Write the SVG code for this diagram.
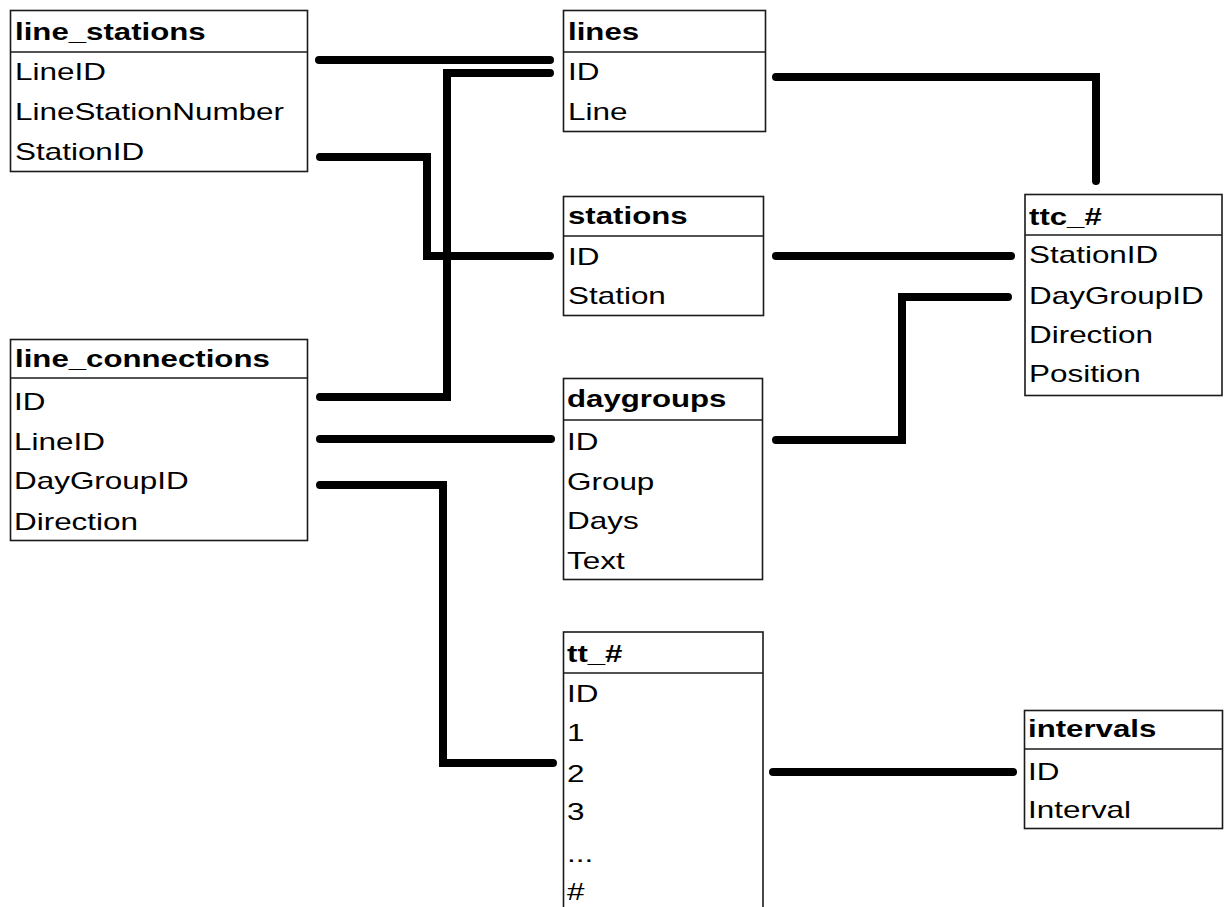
<svg xmlns="http://www.w3.org/2000/svg" width="1225" height="907" viewBox="0 0 1225 907">
<style>
.box{fill:#fff;stroke:#1a1a1a;stroke-width:1.6}
.div{stroke:#1a1a1a;stroke-width:1.6}
.t{font-family:"Liberation Sans",Arial,sans-serif;font-size:24px;fill:#000}
.h{font-family:"Liberation Sans",Arial,sans-serif;font-size:24px;font-weight:bold;fill:#000}
.c{fill:none;stroke:#000;stroke-width:8;stroke-linecap:round;stroke-linejoin:miter}
</style>
<rect width="1225" height="907" fill="#fff"/>
<g id="connectors">
<path class="c" d="M319,60 H550"/>
<path class="c" d="M320,397 H447 V73 H550"/>
<path class="c" d="M320,157 H427 V256 H550"/>
<path class="c" d="M776,256 H1011"/>
<path class="c" d="M776,77 H1096 V181"/>
<path class="c" d="M776,440 H902 V297 H1008"/>
<path class="c" d="M320,439 H551"/>
<path class="c" d="M320,485 H443 V763 H553"/>
<path class="c" d="M773,772 H1013"/>
</g>
<g id="line_stations">
<rect class="box" x="10.5" y="10.5" width="297" height="161"/>
<line class="div" x1="10.5" y1="52" x2="307.5" y2="52"/>
<text class="h" transform="translate(15,40) scale(1.3,1)">line_stations</text>
<text class="t" transform="translate(15,80) scale(1.31,1)">LineID</text>
<text class="t" transform="translate(15,120) scale(1.31,1)">LineStationNumber</text>
<text class="t" transform="translate(15,160) scale(1.31,1)">StationID</text>
</g>
<g id="lines">
<rect class="box" x="563.5" y="10.5" width="202" height="121"/>
<line class="div" x1="563.5" y1="52" x2="765.5" y2="52"/>
<text class="h" transform="translate(568,40) scale(1.3,1)">lines</text>
<text class="t" transform="translate(568,80) scale(1.31,1)">ID</text>
<text class="t" transform="translate(568,120) scale(1.31,1)">Line</text>
</g>
<g id="stations">
<rect class="box" x="563.5" y="196.5" width="200" height="119"/>
<line class="div" x1="563.5" y1="236" x2="763.5" y2="236"/>
<text class="h" transform="translate(568,224) scale(1.3,1)">stations</text>
<text class="t" transform="translate(568,265) scale(1.31,1)">ID</text>
<text class="t" transform="translate(568,304) scale(1.31,1)">Station</text>
</g>
<g id="ttc">
<rect class="box" x="1025" y="194.5" width="197" height="201"/>
<line class="div" x1="1025" y1="235" x2="1222" y2="235"/>
<text class="h" transform="translate(1029,225) scale(1.3,1)">ttc_#</text>
<text class="t" transform="translate(1029,263) scale(1.31,1)">StationID</text>
<text class="t" transform="translate(1029,304) scale(1.31,1)">DayGroupID</text>
<text class="t" transform="translate(1029,343) scale(1.31,1)">Direction</text>
<text class="t" transform="translate(1029,382) scale(1.31,1)">Position</text>
</g>
<g id="line_connections">
<rect class="box" x="10.5" y="339.5" width="297" height="201"/>
<line class="div" x1="10.5" y1="378" x2="307.5" y2="378"/>
<text class="h" transform="translate(15,367) scale(1.3,1)">line_connections</text>
<text class="t" transform="translate(14,410) scale(1.31,1)">ID</text>
<text class="t" transform="translate(14,450) scale(1.31,1)">LineID</text>
<text class="t" transform="translate(14,489) scale(1.31,1)">DayGroupID</text>
<text class="t" transform="translate(14,530) scale(1.31,1)">Direction</text>
</g>
<g id="daygroups">
<rect class="box" x="563.5" y="378.5" width="199" height="201"/>
<line class="div" x1="563.5" y1="420" x2="762.5" y2="420"/>
<text class="h" transform="translate(567,407) scale(1.3,1)">daygroups</text>
<text class="t" transform="translate(567,450) scale(1.31,1)">ID</text>
<text class="t" transform="translate(567,490) scale(1.31,1)">Group</text>
<text class="t" transform="translate(567,529) scale(1.31,1)">Days</text>
<text class="t" transform="translate(567,569) scale(1.31,1)">Text</text>
</g>
<g id="tt">
<rect class="box" x="563.5" y="632" width="199.5" height="290"/>
<line class="div" x1="563.5" y1="673" x2="763" y2="673"/>
<text class="h" transform="translate(567,662) scale(1.3,1)">tt_#</text>
<text class="t" transform="translate(567,702) scale(1.31,1)">ID</text>
<text class="t" transform="translate(567,741) scale(1.31,1)">1</text>
<text class="t" transform="translate(567,782) scale(1.31,1)">2</text>
<text class="t" transform="translate(567,820) scale(1.31,1)">3</text>
<text class="t" transform="translate(567,862) scale(1.31,1)">...</text>
<text class="t" transform="translate(567,900) scale(1.31,1)">#</text>
</g>
<g id="intervals">
<rect class="box" x="1024.5" y="710.5" width="198" height="118"/>
<line class="div" x1="1024.5" y1="749" x2="1222.5" y2="749"/>
<text class="h" transform="translate(1028,737) scale(1.3,1)">intervals</text>
<text class="t" transform="translate(1028,780) scale(1.31,1)">ID</text>
<text class="t" transform="translate(1028,818) scale(1.31,1)">Interval</text>
</g>
</svg>
